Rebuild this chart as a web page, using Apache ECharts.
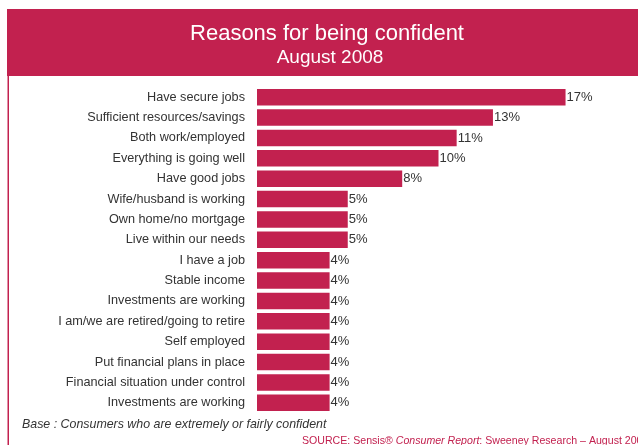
<!DOCTYPE html>
<html>
<head>
<meta charset="utf-8">
<script src="https://cdn.jsdelivr.net/npm/echarts@6/dist/echarts.min.js"></script>
<style>
  html, body { margin: 0; padding: 0; background: #fff; }
  #chart { width: 638px; height: 445px; }
</style>
</head>
<body>
<div id="chart"></div>
<script>
// Reasons given by confident consumers, share of respondents (%)
const reasons = [
  'Have secure jobs',
  'Sufficient resources/savings',
  'Both work/employed',
  'Everything is going well',
  'Have good jobs',
  'Wife/husband is working',
  'Own home/no mortgage',
  'Live within our needs',
  'I have a job',
  'Stable income',
  'Investments are working',
  'I am/we are retired/going to retire',
  'Self employed',
  'Put financial plans in place',
  'Financial situation under control',
  'Investments are working'
];
const shares = [17, 13, 11, 10, 8, 5, 5, 5, 4, 4, 4, 4, 4, 4, 4, 4];

const titleText = 'Reasons for being confident';
const subtitleText = 'August 2008';
const baseNote = 'Base : Consumers who are extremely or fairly confident';

const CRIMSON = '#C2214F';
const FONT = '"Liberation Sans", sans-serif';

const chart = echarts.init(document.getElementById('chart'), null, { renderer: 'canvas' });

chart.setOption({
  backgroundColor: '#ffffff',
  animation: false,
  grid: { left: 257, top: 87, right: 18, bottom: 32, containLabel: false },
  xAxis: {
    type: 'value', min: 0, max: 20,
    show: false
  },
  yAxis: {
    type: 'category',
    data: reasons.map((r, i) => String(i)),
    inverse: true,
    axisLine: { show: false },
    axisTick: { show: false },
    splitLine: { show: false },
    axisLabel: {
      margin: 12,
      color: '#333333',
      fontFamily: FONT,
      fontSize: 12.7,
      formatter: (v) => reasons[+v]
    }
  },
  series: [{
    type: 'bar',
    data: shares,
    barCategoryGap: '19%',
    itemStyle: { color: CRIMSON },
    label: {
      show: true,
      position: 'right',
      distance: 1,
      formatter: '{c}%',
      color: '#333333',
      fontFamily: FONT,
      fontSize: 13
    }
  }],
  graphic: [
    { type: 'rect', shape: { x: 7, y: 9, width: 640, height: 67 }, style: { fill: CRIMSON }, silent: true },
    { type: 'rect', shape: { x: 7.5, y: 76, width: 1.5, height: 380 }, style: { fill: CRIMSON }, silent: true },
    {
      type: 'text', x: 327, y: 23,
      style: { text: titleText, fill: '#ffffff', font: '22px ' + FONT, textAlign: 'center', textVerticalAlign: 'top' }
    },
    {
      type: 'text', x: 330, y: 48,
      style: { text: subtitleText, fill: '#ffffff', font: '19px ' + FONT, textAlign: 'center', textVerticalAlign: 'top' }
    },
    {
      type: 'text', left: 22, top: 419,
      style: { text: baseNote, fill: '#333333', font: 'italic 12.4px ' + FONT }
    },
    {
      type: 'text', x: 302, y: 436,
      style: {
        text: '{a|SOURCE: Sensis® }{b|Consumer Report}{a|: Sweeney Research – August 2008}',
        textVerticalAlign: 'top',
        rich: {
          a: { fill: CRIMSON, font: '10.6px ' + FONT },
          b: { fill: CRIMSON, font: 'italic 10.6px ' + FONT }
        }
      }
    }
  ]
});
</script>
</body>
</html>
